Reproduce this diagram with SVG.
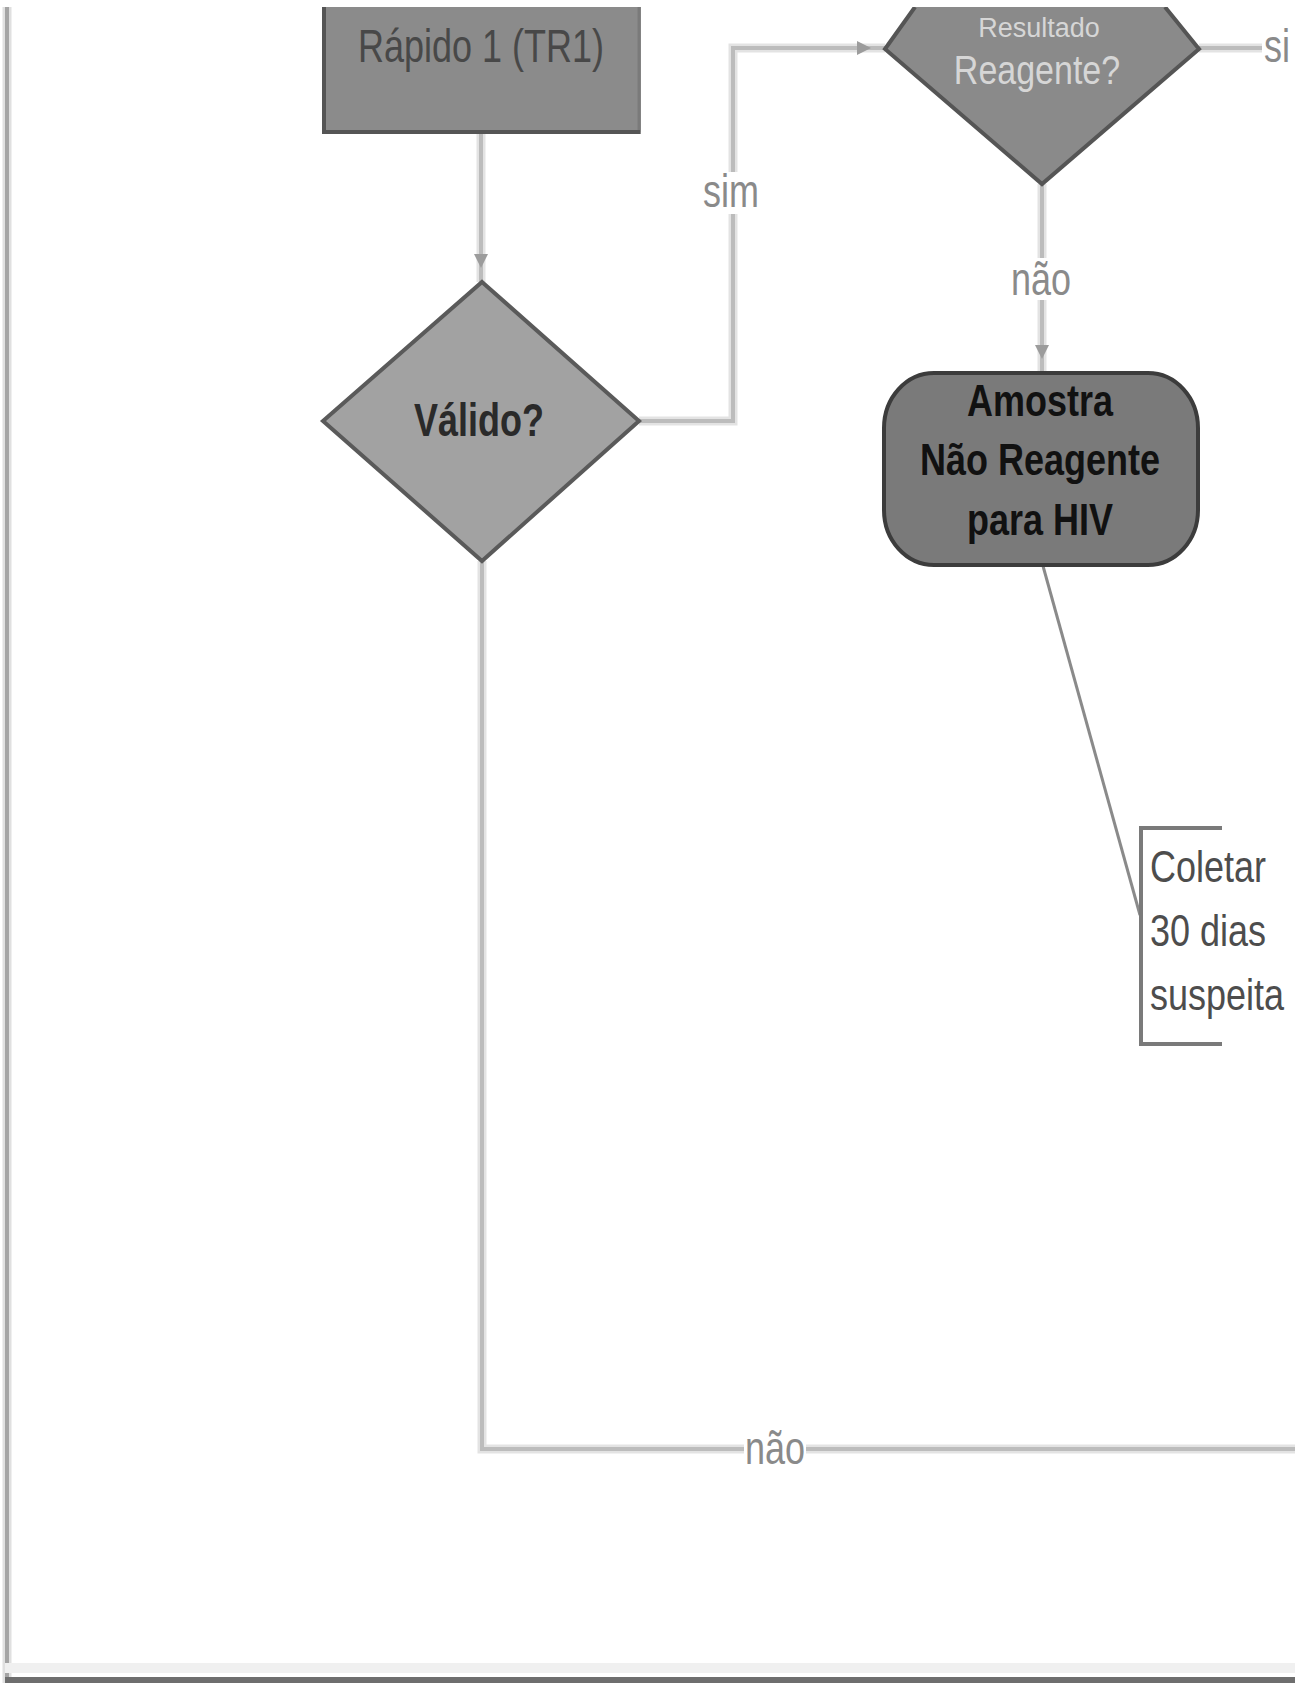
<svg xmlns="http://www.w3.org/2000/svg" width="1295" height="1683" viewBox="0 0 1295 1683">
<style>
.halo{fill:none;stroke:#e3e3e3;stroke-width:9}
.conn{fill:none;stroke:#bcbcbc;stroke-width:4}
.assoc{fill:none;stroke:#8a8a8a;stroke-width:3}
.lblbg{fill:#ffffff}
.lbl{font-family:"Liberation Sans",Arial,sans-serif;font-size:36px;fill:#8a8a8a;text-anchor:middle}
.t{font-family:"Liberation Sans",Arial,sans-serif;font-size:36px}
.b{font-weight:bold}
.mid{text-anchor:middle}
</style>
<defs>
<marker id="arr" markerUnits="userSpaceOnUse" markerWidth="40" markerHeight="20" refX="28" refY="7" orient="auto" overflow="visible">
<path d="M0,0 L14,7 L0,14 z" fill="#9c9c9c"/>
</marker>
<clipPath id="page"><rect x="0" y="7" width="1295" height="1676"/></clipPath>
</defs>
<rect x="0" y="0" width="1295" height="1683" fill="#ffffff"/>
<g id="frame">
<line x1="7" y1="7" x2="7" y2="1683" stroke="#e0e0e0" stroke-width="9"/>
<line x1="7" y1="7" x2="7" y2="1683" stroke="#a4a4a4" stroke-width="4"/>
<rect x="5" y="1663" width="1290" height="10" fill="#f0f0f0"/>
<line x1="5" y1="1680" x2="1295" y2="1680" stroke="#6e6e6e" stroke-width="6"/>
</g>
<g id="connectors" clip-path="url(#page)">
<path class="halo" d="M481,134 V282"/>
<path class="conn" d="M481,134 V282" marker-end="url(#arr)"/>
<path class="halo" d="M639,421 H733 V48 H885"/>
<path class="conn" d="M639,421 H733 V48 H885" marker-end="url(#arr)"/>
<path class="halo" d="M1042,184 V373"/>
<path class="conn" d="M1042,184 V373" marker-end="url(#arr)"/>
<path class="halo" d="M482,561 V1449 H1295"/>
<path class="conn" d="M482,561 V1449 H1295"/>
<path class="halo" d="M1199,48 H1262"/>
<path class="conn" d="M1199,48 H1262"/>
<path class="assoc" d="M1043,566 L1140,915"/>
<rect class="lblbg" x="703" y="172" width="56" height="42"/>
<text class="lbl" transform="translate(731,207) scale(1,1.3)">sim</text>
<rect class="lblbg" x="1008" y="258" width="66" height="42"/>
<text class="lbl" transform="translate(1041,295) scale(1,1.3)">não</text>
<rect class="lblbg" x="744" y="1428" width="62" height="42"/>
<text class="lbl" transform="translate(775,1464) scale(1,1.3)">não</text>
<rect class="lblbg" x="1262" y="28" width="33" height="42"/>
<text class="lbl" style="text-anchor:start" transform="translate(1264,62) scale(1,1.3)">si</text>
</g>
<g id="n_rapido" clip-path="url(#page)">
<rect x="322" y="7" width="319" height="127" fill="#8b8b8b"/>
<path d="M639,7 V132" stroke="#7a7a7a" stroke-width="3" fill="none"/>
<path d="M324,7 V132 H640" stroke="#555555" stroke-width="4" fill="none"/>
<text class="t mid" fill="#484848" transform="translate(481,62) scale(1,1.3)">Rápido 1 (TR1)</text>
</g>
<g id="n_valido">
<polygon points="482,282 639,421 482,561 323,421" fill="#a2a2a2" stroke="#5a5a5a" stroke-width="4"/>
<text class="t b mid" fill="#2a2a2a" transform="translate(479,436) scale(1,1.3)">Válido?</text>
</g>
<g id="n_resultado" clip-path="url(#page)">
<polygon points="885,49 915,7 1165,7 1199,49 1042,184" fill="#8a8a8a"/>
<path d="M915,7 L885,49 L1042,184 L1199,49 L1165,7" fill="none" stroke="#555555" stroke-width="4"/>
<text class="t mid" style="font-size:27px" fill="#d6d6d6" transform="translate(1039,37)">Resultado</text>
<text class="t mid" style="font-size:34px" fill="#d6d6d6" transform="translate(1037,84) scale(1,1.2)">Reagente?</text>
</g>
<g id="n_amostra">
<rect x="884" y="373" width="314" height="192" rx="50" ry="55" fill="#7a7a7a" stroke="#3c3c3c" stroke-width="4"/>
<text class="t b mid" fill="#111111" transform="translate(1040,416) scale(1,1.25)">Amostra</text>
<text class="t b mid" fill="#111111" transform="translate(1040,475) scale(1,1.25)">Não Reagente</text>
<text class="t b mid" fill="#111111" transform="translate(1040,535) scale(1,1.25)">para HIV</text>
</g>
<g id="n_anotacao">
<path d="M1222,828 H1141 V1044 H1222" fill="none" stroke="#7a7a7a" stroke-width="4"/>
<text class="t" fill="#4d4d4d" transform="translate(1150,882) scale(1,1.25)">Coletar</text>
<text class="t" fill="#4d4d4d" transform="translate(1150,946) scale(1,1.25)">30 dias</text>
<text class="t" fill="#4d4d4d" transform="translate(1150,1010) scale(1,1.25)">suspeita</text>
</g>
</svg>
